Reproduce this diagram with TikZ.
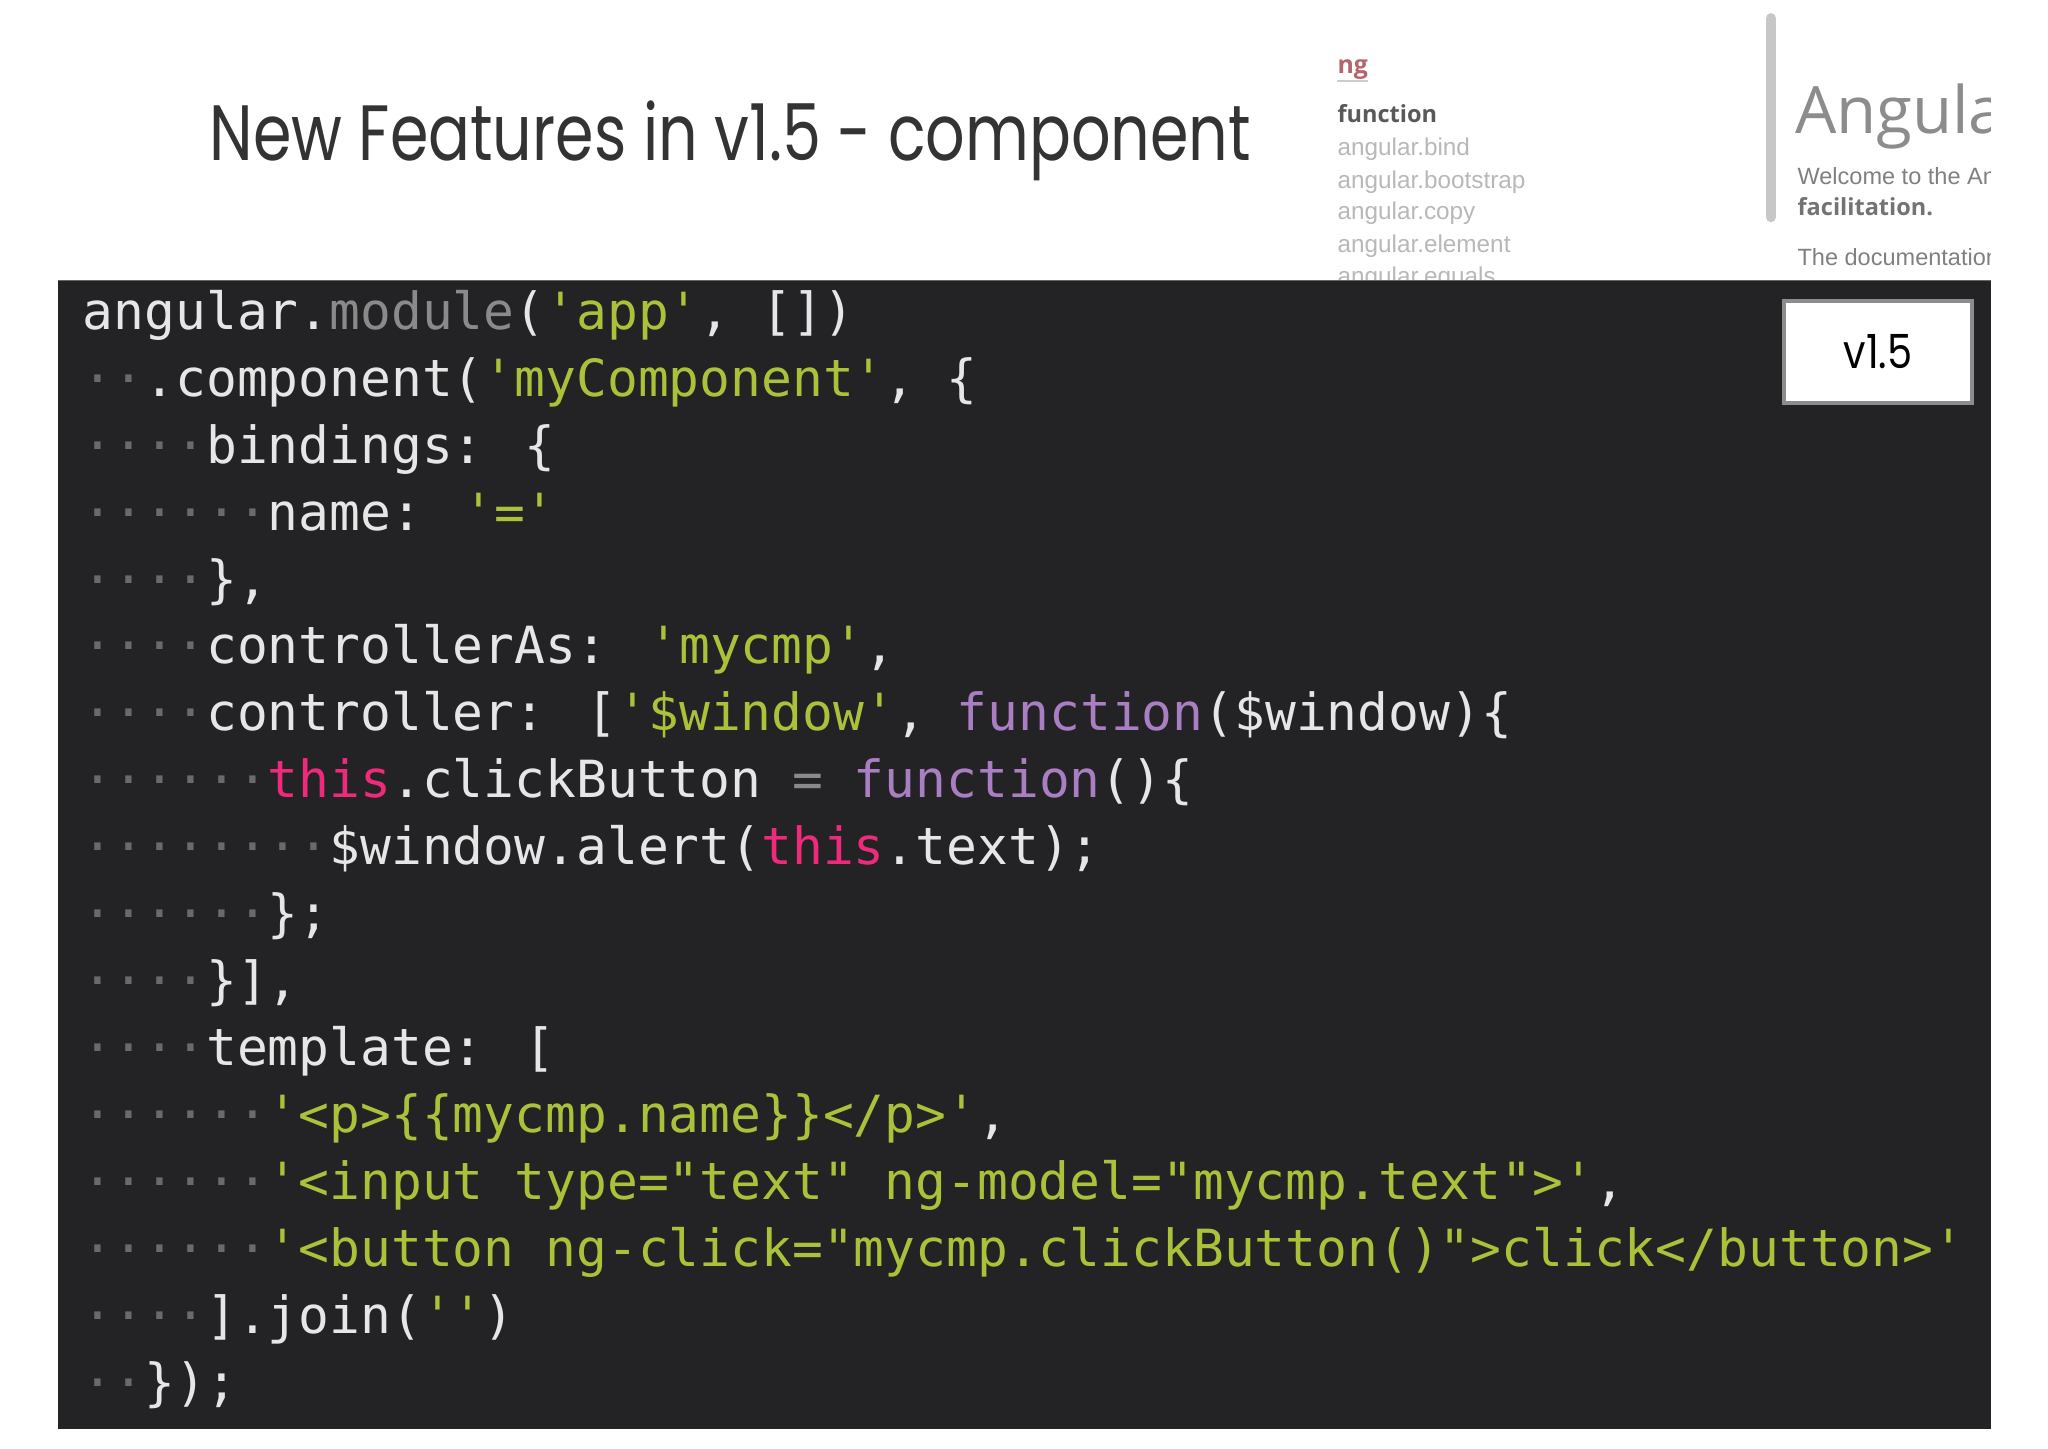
\documentclass[tikz,border=0pt]{standalone}
\usepackage{fontspec}
\usepackage{graphicx}
\newfontfamily\code{DejaVu Sans Mono}
\newfontfamily\titlef{Poppins}
\newfontfamily\opens{Open Sans}
\newfontfamily\lsans{Liberation Sans}
\definecolor{bg}{HTML}{232225}
\definecolor{txt}{HTML}{E6E6E6}
\definecolor{strc}{HTML}{A9C23A}
\definecolor{kwc}{HTML}{A97EC2}
\definecolor{thc}{HTML}{EE2A7B}
\definecolor{grc}{HTML}{8A8A8A}
\definecolor{dotc}{HTML}{6A6A6A}
\newcommand\q{\char"27\relax}
\newcommand\cS[1]{\textcolor{strc}{#1}}
\newcommand\cK[1]{\textcolor{kwc}{#1}}
\newcommand\cT[1]{\textcolor{thc}{#1}}
\newcommand\cG[1]{\textcolor{grc}{#1}}
\newcommand\cP[1]{\textcolor{dotc}{#1}}
\begin{document}
\begin{tikzpicture}[x=0.5pt,y=-0.5pt,
  codeline/.style={anchor=base west,inner sep=0pt,text=txt,font=\code\fontsize{19.6}{22}\selectfont},
  side/.style={anchor=base west,inner sep=0pt,font=\lsans\fontsize{9.3}{11}\selectfont,text=black!28}]
\useasboundingbox (0,0) rectangle (1567,1108);
\fill[white] (0,0) rectangle (1567,1108);
\node[anchor=base west,inner sep=0pt,text=black!80,font=\titlef\fontsize{30}{36}\selectfont] (title) at (160,123) {\scalebox{0.79}[1]{New Features in v1.5 - component}};
% sidebar
\node[anchor=base west,inner sep=0pt,font=\opens\bfseries\fontsize{9.5}{12}\selectfont,text={rgb,255:red,181;green,100;blue,107}] (ng) at (1023,56) {ng};
\draw[black!20,line width=1] (1023,62) -- (1047,62);
\node[anchor=base west,inner sep=0pt,font=\opens\bfseries\fontsize{9}{12}\selectfont,text=black!65] (fn) at (1023,94) {function};
\node[side] (s1) at (1023,119) {angular.bind};
\node[side] (s2) at (1023,144) {angular.bootstrap};
\node[side] (s3) at (1023,168) {angular.copy};
\node[side] (s4) at (1023,193) {angular.element};
\begin{scope}
\clip (1000,0) rectangle (1300,214);
\node[side] (s5) at (1023,218) {angular.equals};
\end{scope}
\draw[black!22,line width=4,line cap=round] (1355,14) -- (1355,166);
\begin{scope}
\clip (1362,0) rectangle (1523,214);
\node[anchor=base west,inner sep=0pt,font=\opens\fontsize{25}{30}\selectfont,text=black!45] (ang) at (1373,102) {Angular};
\node[anchor=base west,inner sep=0pt,font=\lsans\fontsize{9}{11}\selectfont,text=black!50] (w1) at (1375,141) {Welcome to the Angular};
\node[anchor=base west,inner sep=0pt,font=\opens\bfseries\fontsize{9}{11}\selectfont,text=black!55] (w2) at (1375,165) {facilitation.};
\node[anchor=base west,inner sep=0pt,font=\lsans\fontsize{9}{11}\selectfont,text=black!50] (w3) at (1375,203) {The documentation};
\end{scope}
% code box
\fill[bg] (44,214) rectangle (1523,1093);
\draw[black!60,line width=0.6] (44,214.5) -- (1523,214.5);
\begin{scope}
\clip (44,214) rectangle (1523,1093);
\foreach \i/\t in {
 1/{angular.\cG{module}(\cS{\q app\q}, [])},
 2/{\cP{··}.component(\cS{\q myComponent\q}, \{},
 3/{\cP{····}bindings: \{},
 4/{\cP{······}name: \cS{\q=\q}},
 5/{\cP{····}\},},
 6/{\cP{····}controllerAs: \cS{\q mycmp\q},},
 7/{\cP{····}controller: [\cS{\q\$window\q}, \cK{function}(\$window)\{},
 8/{\cP{······}\cT{this}.clickButton \cG{=} \cK{function}()\{},
 9/{\cP{········}\$window.alert(\cT{this}.text);},
 10/{\cP{······}\};},
 11/{\cP{····}\}],},
 12/{\cP{····}template: [},
 13/{\cP{······}\cS{\q<p>\{\{mycmp.name\}\}</p>\q},},
 14/{\cP{······}\cS{\q<input type="text" ng-model="mycmp.text">\q},},
 15/{\cP{······}\cS{\q<button ng-click="mycmp.clickButton()">click</button>\q}},
 16/{\cP{····}].join(\cS{\q\q})},
 17/{\cP{··}\});}}
 \node[codeline] (l\i) at (63,{252+(\i-1)*51.2}) {\t};
\end{scope}
% version badge
\node[draw=black!45,line width=1.5,fill=white,minimum width=72pt,minimum height=39pt,inner sep=0pt,font=\titlef\fontsize{18}{22}\selectfont,text=black] (ver) at (1437,269) {\scalebox{0.85}[1]{v1.5}};
\end{tikzpicture}
\end{document}
